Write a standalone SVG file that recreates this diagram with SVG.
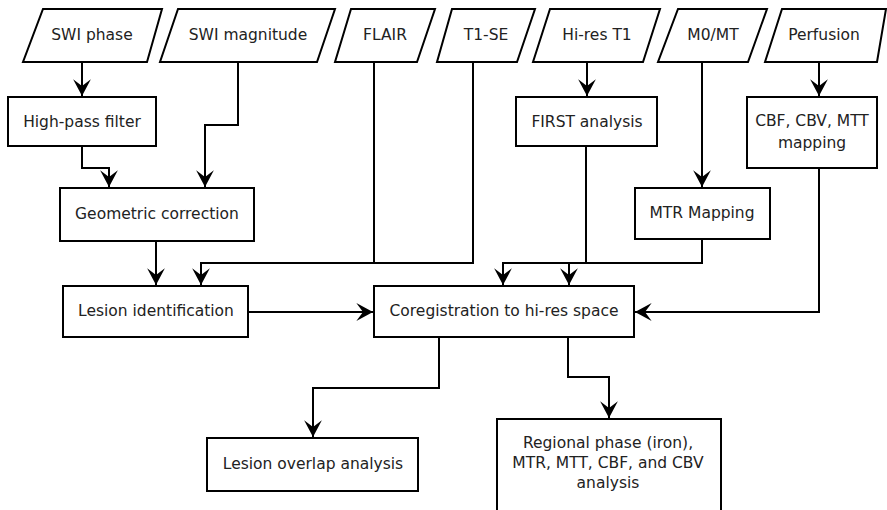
<svg xmlns="http://www.w3.org/2000/svg" width="887" height="510" viewBox="0 0 887 510">
<style>
.n{fill:#fff;stroke:#000;stroke-width:2}
.t{font-family:"DejaVu Sans",sans-serif;font-size:15.5px;fill:#222;text-anchor:middle}
.c{fill:none;stroke:#000;stroke-width:2;marker-end:url(#ah)}
.p{fill:none;stroke:#000;stroke-width:2}
</style>
<defs>
<marker id="ah" markerUnits="userSpaceOnUse" markerWidth="20" markerHeight="20" viewBox="-16 -9 18 18" refX="0" refY="0" orient="auto">
<path d="M0,0 L-15,-8 L-9,0 L-15,8 Z" fill="#000"/>
</marker>
</defs>
<rect width="887" height="510" fill="#fff"/>
<g id="connectors">
<path class="c" d="M82,62 V96"/>
<path class="c" d="M238,62 V125 H205 V187"/>
<path class="c" d="M82,146 V168 H109 V187"/>
<path class="c" d="M156,241 V285"/>
<path class="c" d="M374,62 V263 H201 V285"/>
<path class="p" d="M473,62 V263 H374"/>
<path class="c" d="M248,312 H373"/>
<path class="c" d="M587,62 V96"/>
<path class="c" d="M586,146 V263 H503 V285"/>
<path class="c" d="M702,62 V187"/>
<path class="c" d="M702,239 V263 H569 V285"/>
<path class="c" d="M819,62 V96"/>
<path class="c" d="M819,168 V312 H635"/>
<path class="c" d="M439,337 V388 H313 V437"/>
<path class="c" d="M568,337 V377 H609 V418"/>
</g>
<g id="swi_phase"><polygon class="n" points="43,9 162,9 147,62 23,62"/><text class="t" x="92" y="40">SWI phase</text></g>
<g id="swi_magnitude"><polygon class="n" points="178,9 335,9 317,62 160,62"/><text class="t" x="248" y="40">SWI magnitude</text></g>
<g id="flair"><polygon class="n" points="351,9 435,9 417,62 335,62"/><text class="t" x="385" y="40">FLAIR</text></g>
<g id="t1se"><polygon class="n" points="452,9 535,9 517,62 437,62"/><text class="t" x="486" y="40">T1-SE</text></g>
<g id="hires_t1"><polygon class="n" points="550,9 660,9 643,62 533,62"/><text class="t" x="597" y="40">Hi-res T1</text></g>
<g id="m0mt"><polygon class="n" points="678,9 767,9 748,62 658,62"/><text class="t" x="713" y="40">M0/MT</text></g>
<g id="perfusion"><polygon class="n" points="782,9 886,9 877,62 765,62"/><text class="t" x="824" y="40">Perfusion</text></g>
<g id="highpass"><rect class="n" x="8" y="97" width="148" height="49"/><text class="t" x="82" y="127">High-pass filter</text></g>
<g id="first"><rect class="n" x="516" y="97" width="141" height="49"/><text class="t" x="587" y="127">FIRST analysis</text></g>
<g id="cbf_mapping"><rect class="n" x="747" y="97" width="130" height="71"/><text class="t" x="812" y="126">CBF, CBV, MTT</text><text class="t" x="812" y="148">mapping</text></g>
<g id="geometric"><rect class="n" x="60" y="188" width="194" height="53"/><text class="t" x="157" y="219">Geometric correction</text></g>
<g id="mtr_mapping"><rect class="n" x="635" y="188" width="135" height="51"/><text class="t" x="702" y="218">MTR Mapping</text></g>
<g id="lesion_id"><rect class="n" x="63" y="286" width="185" height="51"/><text class="t" x="156" y="316">Lesion identification</text></g>
<g id="coreg"><rect class="n" x="374" y="286" width="260" height="51"/><text class="t" x="504" y="316">Coregistration to hi-res space</text></g>
<g id="lesion_overlap"><rect class="n" x="207" y="438" width="211" height="53"/><text class="t" x="313" y="469">Lesion overlap analysis</text></g>
<g id="regional"><rect class="n" x="497" y="419" width="224" height="100"/><text class="t" x="608" y="448">Regional phase (iron),</text><text class="t" x="608" y="468">MTR, MTT, CBF, and CBV</text><text class="t" x="608" y="488">analysis</text></g>
</svg>
